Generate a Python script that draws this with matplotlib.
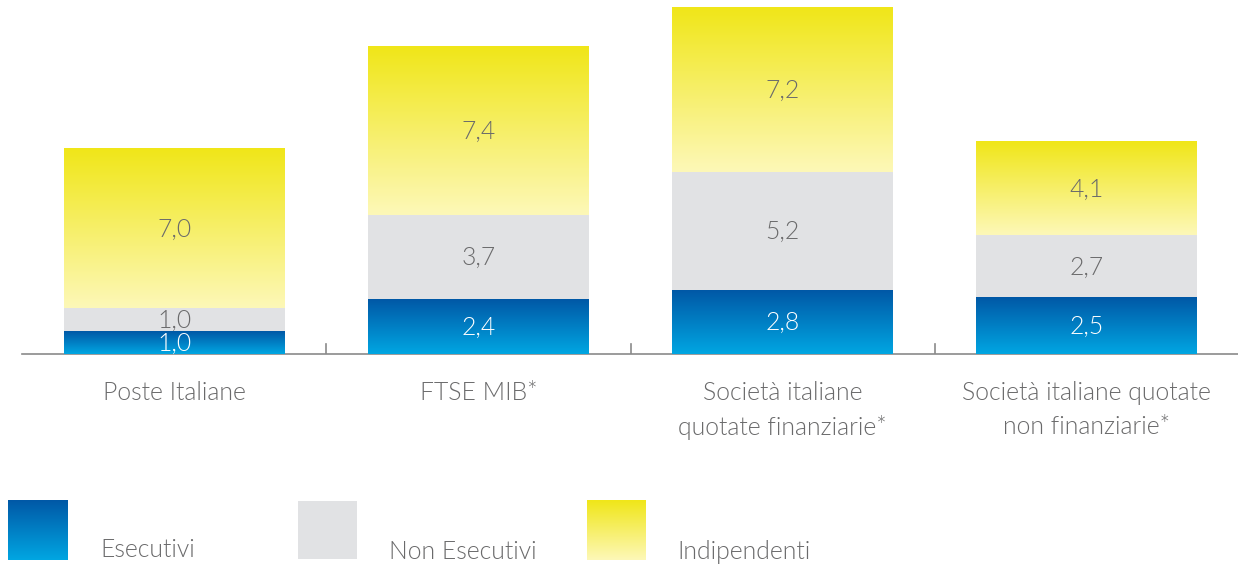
import numpy as np
import matplotlib
matplotlib.use("Agg")
import matplotlib.pyplot as plt
from matplotlib.colors import LinearSegmentedColormap
from matplotlib.patches import Rectangle

categories = ["Poste Italiane", "FTSE MIB*", "Società italiane\nquotate finanziarie*",
              "Società italiane quotate\nnon finanziarie*"]
esecutivi = [1.0, 2.4, 2.8, 2.5]
non_esecutivi = [1.0, 3.7, 5.2, 2.7]
indipendenti = [7.0, 7.4, 7.2, 4.1]
series_names = ["Esecutivi", "Non Esecutivi", "Indipendenti"]

plt.rcParams['font.family'] = ['Lato', 'DejaVu Sans']
FW = 300
FS = 17.8
TXT = '#6a6a6b'

blue_cmap = LinearSegmentedColormap.from_list('b', ['#00a6e2', '#0058a6'])
yel_cmap = LinearSegmentedColormap.from_list('y', ['#fdf8b8', '#f0e618'])
gray = '#e1e2e4'

W, H = 1238, 566
fig = plt.figure(figsize=(W/100, H/100), dpi=100)
ax = fig.add_axes([22/W, (H-354)/H, (1239-22)/W, 354/H])
ax.set_xlim(-0.5, 3.5)
ax.set_ylim(0, 354/22.8)
ax.axis('off')

grad = np.linspace(0, 1, 256).reshape(-1, 1)
bw = 0.726

def seg(x, y0, h, cmap=None, color=None):
    if cmap is not None:
        ax.imshow(grad, cmap=cmap, origin='lower', aspect='auto',
                  extent=[x-bw/2, x+bw/2, y0, y0+h], interpolation='bilinear', zorder=2)
    else:
        ax.add_patch(Rectangle((x-bw/2, y0), bw, h, facecolor=color, edgecolor='none', zorder=2))

fmt = lambda v: f"{v:.1f}".replace('.', ',')
for i in range(len(categories)):
    e, n, d = esecutivi[i], non_esecutivi[i], indipendenti[i]
    seg(i, 0, e, cmap=blue_cmap)
    seg(i, e, n, color=gray)
    seg(i, e+n, d, cmap=yel_cmap)
    ax.text(i, e/2 - 0.05, fmt(e), ha='center', va='center', color='white',
            fontsize=FS, fontweight=FW, zorder=3)
    ax.text(i, e + n/2 - 0.05, fmt(n), ha='center', va='center', color=TXT,
            fontsize=FS, fontweight=FW, zorder=3)
    ax.text(i, e + n + d/2 - 0.05, fmt(d), ha='center', va='center', color=TXT,
            fontsize=FS, fontweight=FW, zorder=3)

ax.plot([-0.5, 3.5], [0, 0], color='#8a8a8a', lw=1.2, zorder=1, clip_on=False)
for t in [0.5, 1.5, 2.5]:
    ax.plot([t, t], [0, 0.45], color='#8a8a8a', lw=1.2, zorder=1)

for i, c in enumerate(categories):
    fig.text((22 + (i+0.5)*(1217/4))/W, 1 - 381/H, c, ha='center', va='top',
             color=TXT, fontsize=FS, fontweight=FW, linespacing=1.5)

# legend
txt_x = [100, 389, 677]
txt_y = [550, 552, 552]
lax = fig.add_axes([0, 0, 1, 1], zorder=-1)
lax.set_xlim(0, W); lax.set_ylim(H, 0); lax.axis('off')
lax.imshow(grad, cmap=blue_cmap, origin='lower', aspect='auto', extent=[8, 68, 560, 500])
lax.add_patch(Rectangle((298, 501), 59, 58, facecolor=gray, edgecolor='none'))
lax.imshow(grad, cmap=yel_cmap, origin='lower', aspect='auto', extent=[587, 646, 560, 500])
lax.set_xlim(0, W); lax.set_ylim(H, 0)
for name, tx, ty in zip(series_names, txt_x, txt_y):
    lax.text(tx, ty, name, ha='left', va='center', color=TXT, fontsize=FS, fontweight=FW)

fig.savefig('out.png', dpi=100)
